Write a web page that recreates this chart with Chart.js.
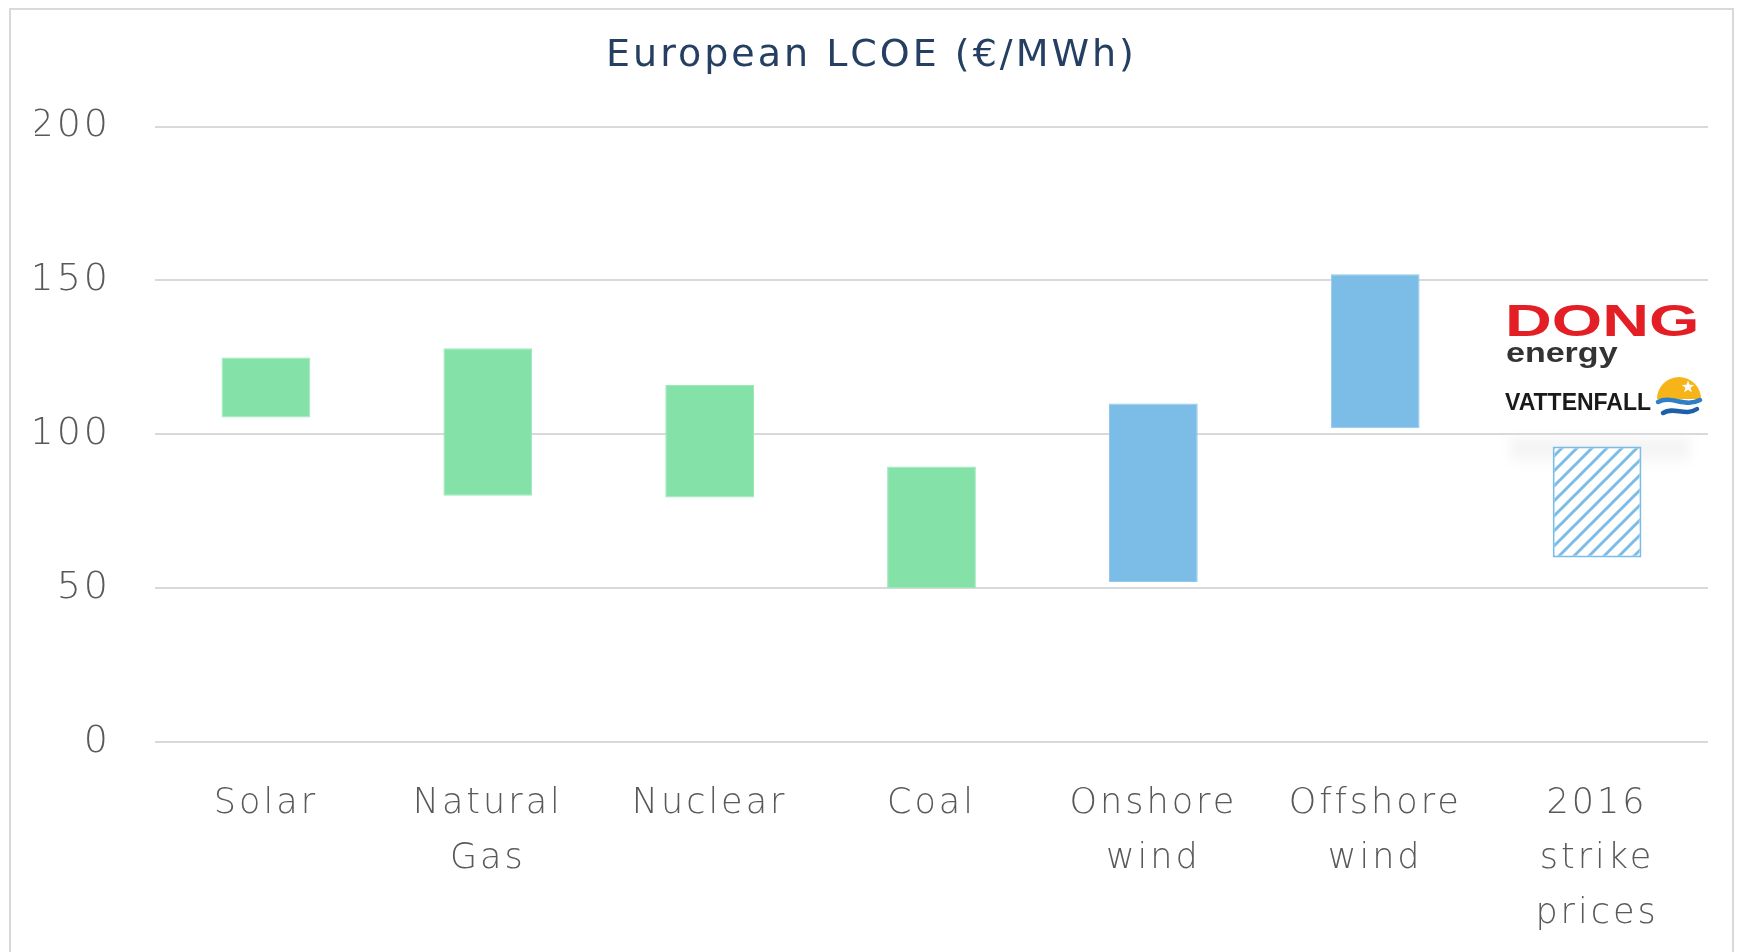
<!DOCTYPE html>
<html>
<head>
<meta charset="utf-8">
<script src="https://cdn.jsdelivr.net/npm/chart.js@4.4.1/dist/chart.umd.min.js"></script>
<style>
  html, body { margin: 0; padding: 0; background: #ffffff; }
  #wrap { width: 1741px; height: 952px; }
</style>
</head>
<body>
<div id="wrap"><canvas id="c" width="1741" height="952"></canvas></div>
<script>
// ---- Data ----
const categories = [['Solar'], ['Natural', 'Gas'], ['Nuclear'], ['Coal'], ['Onshore', 'wind'], ['Offshore', 'wind'], ['2016', 'strike', 'prices']];
const lowValues  = [105.5, 80, 79.5, 50, 52, 102, 60];
const highValues = [125, 128, 116, 89.5, 110, 152, 96];
const yTicks = [0, 50, 100, 150, 200];
const titleText = 'European LCOE (€/MWh)';

// ---- Styles ----
const GREEN = '#84e1a8';
const BLUE = '#7cbde8';
const TEXT = '#595959';
const FONT = 'DejaVu Sans';

function stripePattern() {
  const d = 15;
  const c = document.createElement('canvas');
  c.width = d; c.height = d;
  const g = c.getContext('2d');
  g.fillStyle = '#ffffff';
  g.fillRect(0, 0, d, d);
  g.strokeStyle = BLUE;
  g.lineWidth = 3;
  g.beginPath();
  g.moveTo(-2, d + 2); g.lineTo(d + 2, -2);
  g.moveTo(-2, 2); g.lineTo(2, -2);
  g.moveTo(d - 2, d + 2); g.lineTo(d + 2, d - 2);
  g.stroke();
  return g.createPattern(c, 'repeat');
}

const ctx = document.getElementById('c').getContext('2d');
const pattern = stripePattern();
const fills = [GREEN, GREEN, GREEN, GREEN, BLUE, BLUE, pattern];
const borders = ['#9be8b8', '#9be8b8', '#9be8b8', '#9be8b8', '#92c9ec', '#92c9ec', BLUE];
const borderW = [1, 1, 1, 1, 1, 1, 2];

const frame = {
  id: 'frame',
  beforeDraw(chart) {
    const g = chart.ctx;
    g.save();
    g.fillStyle = '#ffffff';
    g.fillRect(0, 0, chart.width, chart.height);
    g.strokeStyle = '#d9d9d9';
    g.lineWidth = 2;
    g.strokeRect(10, 9, 1723, 1000);
    g.restore();
    g.letterSpacing = '3px';
  },
  beforeDatasetsDraw(chart) {
    const g = chart.ctx;
    g.save();
    const grd = g.createLinearGradient(0, 432, 0, 470);
    grd.addColorStop(0, 'rgba(230,230,230,0)');
    grd.addColorStop(0.4, 'rgba(236,236,236,0.7)');
    grd.addColorStop(1, 'rgba(240,240,240,0)');
    g.fillStyle = grd;
    g.filter = 'blur(6px)';
    g.fillRect(1510, 436, 180, 30);
    g.restore();
  },
  afterDatasetsDraw(chart) {
    const g = chart.ctx;
    g.save();
    g.letterSpacing = '0px';
    g.fillStyle = '#e31e24';
    g.font = 'bold 45px "Liberation Sans"';
    g.textBaseline = 'alphabetic';
    g.translate(1505, 336);
    g.scale(1.44, 1);
    g.fillText('DONG', 0, 0);
    g.restore();
    g.save();
    g.letterSpacing = '0px';
    g.fillStyle = '#333333';
    g.font = 'bold 27px "Liberation Sans"';
    g.translate(1506, 362);
    g.scale(1.26, 1);
    g.fillText('energy', 0, 0);
    g.restore();
    g.save();
    g.letterSpacing = '0px';
    g.fillStyle = '#1a1a1a';
    g.font = 'bold 23px "Liberation Sans"';
    g.fillText('VATTENFALL', 1505, 410);
    // sun logo
    const cx = 1679, cy = 399, r = 22;
    g.fillStyle = '#f6b418';
    g.beginPath();
    g.arc(cx, cy, r, Math.PI, 2 * Math.PI);
    g.closePath();
    g.fill();
    g.fillStyle = '#ffffff';
    g.beginPath();
    const sx = cx + 9, sy = cy - 12;
    for (let i = 0; i < 10; i++) {
      const a = -Math.PI / 2 + i * Math.PI / 5;
      const rr = i % 2 === 0 ? 6.5 : 2.7;
      g.lineTo(sx + rr * Math.cos(a), sy + rr * Math.sin(a));
    }
    g.closePath();
    g.fill();
    g.lineCap = 'round';
    g.strokeStyle = '#2f7fc8';
    g.lineWidth = 4.5;
    g.beginPath();
    g.moveTo(cx - 21, cy + 3);
    g.bezierCurveTo(cx - 8, cy - 4, cx + 6, cy + 9, cx + 21, cy + 1);
    g.stroke();
    g.strokeStyle = '#1d5fa8';
    g.beginPath();
    g.moveTo(cx - 16, cy + 14);
    g.bezierCurveTo(cx - 5, cy + 7, cx + 6, cy + 18, cx + 18, cy + 10);
    g.stroke();
    g.restore();
  }
};

new Chart(ctx, {
  type: 'bar',
  data: {
    labels: categories,
    datasets: [{
      data: lowValues.map((lo, i) => [lo, highValues[i]]),
      backgroundColor: fills,
      borderColor: borders,
      borderWidth: borderW,
      borderSkipped: false,
      categoryPercentage: 1.0,
      barPercentage: 0.4
    }]
  },
  options: {
    responsive: false,
    animation: false,
    events: [],
    layout: { padding: { left: 35, right: 33, top: 0, bottom: 0 } },
    plugins: {
      legend: { display: false },
      tooltip: { enabled: false },
      title: {
        display: true,
        text: titleText,
        color: '#253f62',
        font: { family: FONT, size: 38, weight: 'normal', lineHeight: 1.2 },
        padding: { top: 33, bottom: 48 }
      }
    },
    scales: {
      x: {
        grid: { display: false },
        border: { display: false },
        ticks: {
          color: TEXT,
          font: { family: FONT, size: 35, weight: 300, lineHeight: 1.58 },
          padding: 26,
          maxRotation: 0,
          autoSkip: false
        },
        afterFit(s) { s.height = 210; }
      },
      y: {
        min: 0,
        max: 200,
        afterBuildTicks(s) { s.ticks = yTicks.map(v => ({ value: v })); },
        grid: { color: '#d9d9d9', lineWidth: 2, drawTicks: false },
        border: { display: false },
        ticks: {
          color: TEXT,
          font: { family: FONT, size: 38, weight: 300 },
          padding: 44
        },
        afterFit(s) { s.width = 120; }
      }
    }
  },
  plugins: [frame]
});
</script>
</body>
</html>
